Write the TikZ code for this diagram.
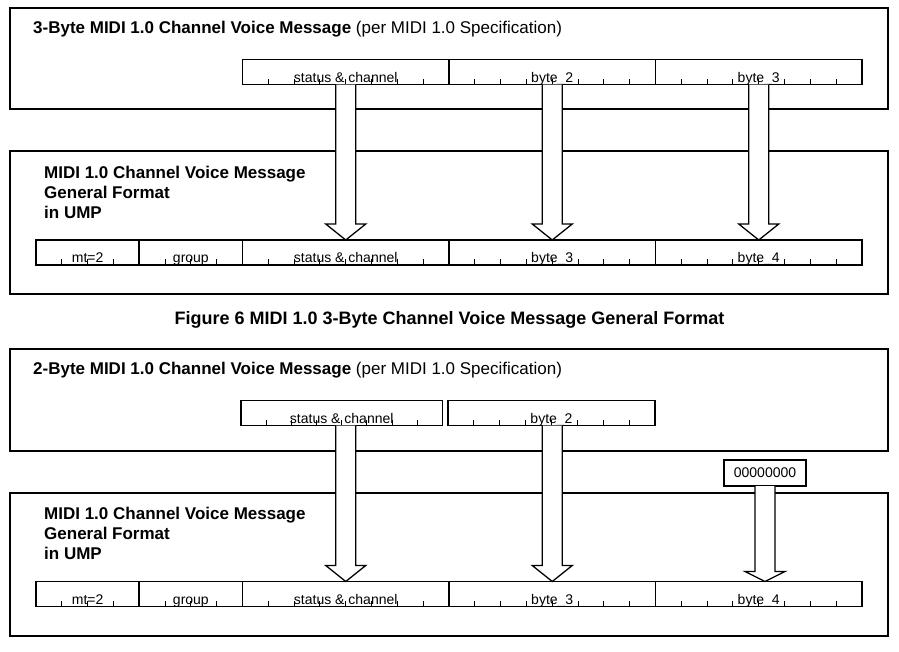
\documentclass[tikz,border=0pt]{standalone}
\usepackage{fontspec}
\setmainfont{Liberation Sans}
\usetikzlibrary{calc}
\tikzset{
  outerbox/.style={draw=black, line width=1.2pt, inner sep=0pt, outer sep=0pt, anchor=north west},
  field/.style={draw=black, line width=1.8pt, inner sep=0pt, outer sep=0pt, anchor=north west, minimum height=25pt},
  fieldtext/.style={inner sep=0pt, anchor=base, font=\fontsize{14}{16}\selectfont},
  ticksty/.style={line width=0.9pt},
  arrowline/.style={line width=1.3pt, line join=miter},
  titletext/.style={inner sep=0pt, anchor=base west, font=\fontsize{17}{20}\selectfont},
  captiontext/.style={inner sep=0pt, anchor=base, font=\fontsize{18}{20}\selectfont\bfseries},
  zerobox/.style={draw=black, line width=1.4pt, inner sep=0pt, outer sep=0pt, minimum width=82pt, minimum height=26pt, font=\fontsize{14}{16}\selectfont}
}
% name, x, y, width, number of ticks, text
\newcommand\bitfield[6]{%
  \node[field, minimum width=#4pt] (#1) at (#2,#3) {};
  \pgfmathsetmacro\stepw{#4/(#5+1)}
  \node[fieldtext] (#1-t) at ($(#1.south)+(0,-2.2)$) {#6};
  \foreach \k in {1,...,#5}{
    \draw[ticksty] ($(#1.south west)+(\k*\stepw,0)$) -- ++(0,-6);
  }
}
% top point, tip point, head length
\newcommand\fatarrow[3]{%
  \fill[white] ($(#1)+(-10,0)$) -- ($(#2)+(-10,-#3)$) -- ($(#2)+(-20,-#3)$) -- (#2) -- ($(#2)+(20,-#3)$) -- ($(#2)+(10,-#3)$) -- ($(#1)+(10,0)$) -- cycle;
  \draw[arrowline] ($(#1)+(-10,0)$) -- ($(#2)+(-10,-#3)$) -- ($(#2)+(-20,-#3)$) -- (#2) -- ($(#2)+(20,-#3)$) -- ($(#2)+(10,-#3)$) -- ($(#1)+(10,0)$);
}
\begin{document}
\begin{tikzpicture}[x=1pt,y=-1pt]
\useasboundingbox (0,0) rectangle (899,651);

% ---------- Figure 6 ----------
\node[outerbox, minimum width=878pt, minimum height=101pt] (o1) at (10,8) {};
\node[titletext] (title1) at (33,33) {\textbf{3-Byte MIDI 1.0 Channel Voice Message} (per MIDI 1.0 Specification)};

\bitfield{s1}{242.5}{59.5}{206.5}{7}{status \& channel}
\bitfield{b12}{449}{59.5}{206.5}{7}{byte\_2}
\bitfield{b13}{655.5}{59.5}{206.5}{7}{byte\_3}

\node[outerbox, minimum width=878pt, minimum height=143pt] (o2) at (10,151) {};
\node[titletext, font=\fontsize{17}{20}\selectfont\bfseries] (u1a) at (44,178) {MIDI 1.0 Channel Voice Message};
\node[titletext, font=\fontsize{17}{20}\selectfont\bfseries] (u1b) at (44,198) {General Format};
\node[titletext, font=\fontsize{17}{20}\selectfont\bfseries] (u1c) at (44,218) {in UMP};

\bitfield{mt1}{36}{240}{103.25}{3}{mt=2}
\bitfield{g1}{139.25}{240}{103.25}{3}{group}
\bitfield{sc1}{242.5}{240}{206.5}{7}{status \& channel}
\bitfield{l13}{449}{240}{206.5}{7}{byte\_3}
\bitfield{l14}{655.5}{240}{206.5}{7}{byte\_4}

\fatarrow{s1.south}{sc1.north}{16}
\fatarrow{b12.south}{l13.north}{16}
\fatarrow{b13.south}{l14.north}{16}

\node[captiontext] (cap6) at (449.5,324.5) {Figure 6 MIDI 1.0 3-Byte Channel Voice Message General Format};

% ---------- Second figure ----------
\node[outerbox, minimum width=878pt, minimum height=102pt] (o3) at (10,349) {};
\node[titletext] (title2) at (33,374) {\textbf{2-Byte MIDI 1.0 Channel Voice Message} (per MIDI 1.0 Specification)};

\bitfield{fs2}{241}{400.5}{201.5}{7}{status \& channel}
\bitfield{fb2}{448}{400.5}{207}{7}{byte\_2}

\node[outerbox, minimum width=878pt, minimum height=143pt] (o4) at (10,493) {};
\node[titletext, font=\fontsize{17}{20}\selectfont\bfseries] (u2a) at (44,519.5) {MIDI 1.0 Channel Voice Message};
\node[titletext, font=\fontsize{17}{20}\selectfont\bfseries] (u2b) at (44,539.5) {General Format};
\node[titletext, font=\fontsize{17}{20}\selectfont\bfseries] (u2c) at (44,559.5) {in UMP};

\bitfield{mt2}{36}{581.5}{103.25}{3}{mt=2}
\bitfield{g2}{139.25}{581.5}{103.25}{3}{group}
\bitfield{sc2}{242.5}{581.5}{206.5}{7}{status \& channel}
\bitfield{l23}{449}{581.5}{206.5}{7}{byte\_3}
\bitfield{l24}{655.5}{581.5}{206.5}{7}{byte\_4}

\node[zerobox] (zero) at (765,473) {00000000};

\coordinate (a1top) at (sc2.north |- fs2.south);
\coordinate (a2top) at (l23.north |- fb2.south);
\coordinate (a3tip) at (zero.south |- l24.north);
\fatarrow{a1top}{sc2.north}{16}
\fatarrow{a2top}{l23.north}{16}
\fatarrow{zero.south}{a3tip}{10}
\end{tikzpicture}
\end{document}
